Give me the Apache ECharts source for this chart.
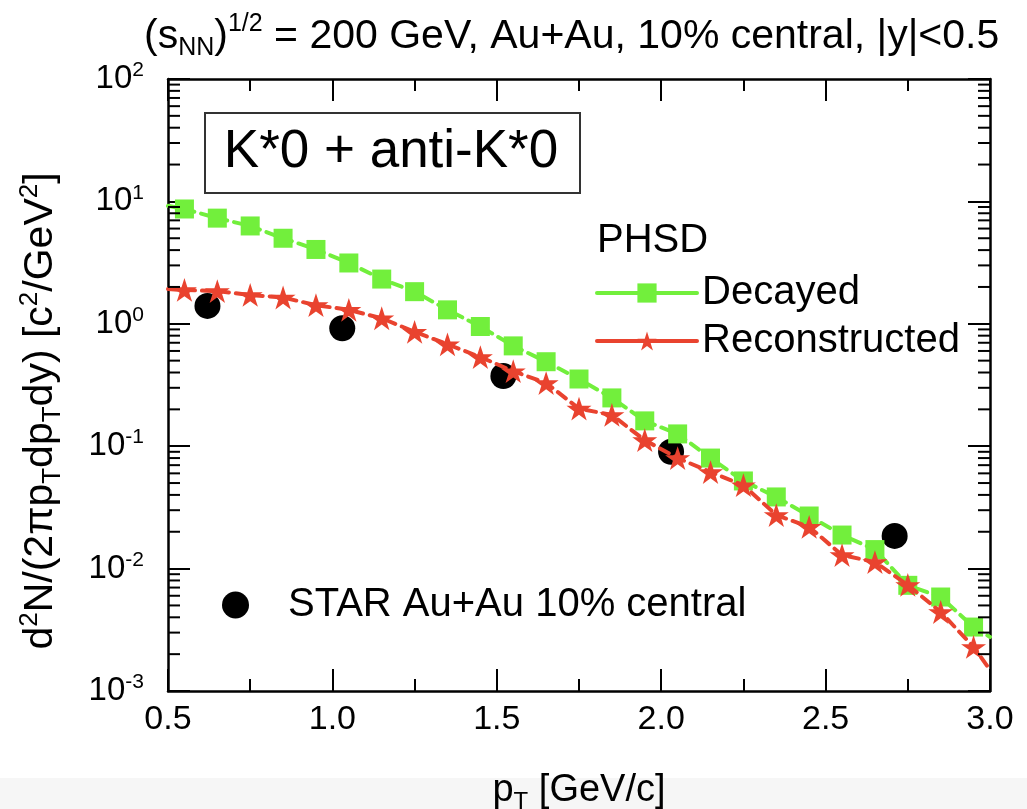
<!DOCTYPE html>
<html>
<head>
<meta charset="utf-8">
<script src="https://cdn.jsdelivr.net/npm/echarts@6/dist/echarts.min.js"></script>
<style>
html,body{margin:0;padding:0;background:#fff;}
#chart{width:1027px;height:809px;}
</style>
</head>
<body>
<div id="chart"></div>
<script>
// ---- data ----
var ptModel = [0.55, 0.65, 0.75, 0.85, 0.95, 1.05, 1.15, 1.25, 1.35, 1.45, 1.55, 1.65, 1.75,
               1.85, 1.95, 2.05, 2.15, 2.25, 2.35, 2.45, 2.55, 2.65, 2.75, 2.85, 2.95];
var decayed = [8.67, 7.3, 6.3, 5.0, 4.05, 3.14, 2.32, 1.83, 1.3, 0.95, 0.66, 0.49, 0.354,
               0.248, 0.161, 0.126, 0.080, 0.052, 0.0385, 0.0269, 0.0188, 0.0143, 0.0073, 0.00586, 0.00333];
var reconstructed = [1.89, 1.85, 1.72, 1.64, 1.42, 1.30, 1.11, 0.86, 0.68, 0.535, 0.41, 0.328, 0.203,
                     0.18, 0.112, 0.080, 0.0615, 0.048, 0.0274, 0.0219, 0.0129, 0.0113, 0.00735, 0.00442, 0.00229];
// curve values at the plot edges (pT = 0.5 and 3.0), drawn without markers
var edgePt = [0.5, 3.0];
var decayedEdge = [9.2, 0.00276];
var reconstructedEdge = [1.92, 0.00149];
var starPt = [0.62, 1.03, 1.52, 2.03, 2.71];
var starVal = [1.40, 0.92, 0.375, 0.090, 0.0185];
var xTicks = [0.5, 1.0, 1.5, 2.0, 2.5, 3.0];
var yMinorTicks = [0.002,0.003,0.004,0.005,0.006,0.007,0.008,0.009,
                   0.02,0.03,0.04,0.05,0.06,0.07,0.08,0.09,
                   0.2,0.3,0.4,0.5,0.6,0.7,0.8,0.9,
                   2,3,4,5,6,7,8,9,
                   20,30,40,50,60,70,80,90];

var FONT = '"Liberation Sans", Arial, Helvetica, sans-serif';
var GREEN = '#72ef3c';
var RED = '#e9432f';
var STARPATH = 'path://M50,0 L61.8,36.3 L100,36.3 L69.1,58.8 L80.9,95.1 L50,72.6 L19.1,95.1 L30.9,58.8 L0,36.3 L38.2,36.3 Z';

function curve(vals, edges) {
  var d = [{value: [edgePt[0], edges[0]], symbol: 'none'}];
  for (var i = 0; i < ptModel.length; i++) d.push([ptModel[i], vals[i]]);
  d.push({value: [edgePt[1], edges[1]], symbol: 'none'});
  return d;
}

function richSet(main, small) {
  return {
    a: {fontSize: main, fontFamily: FONT, fontWeight: 'normal', color: '#000', lineHeight: main + 8, verticalAlign: 'middle'},
    b: {fontSize: small, fontFamily: FONT, fontWeight: 'normal', color: '#000', lineHeight: small, verticalAlign: 'bottom'},
    c: {fontSize: small, fontFamily: FONT, fontWeight: 'normal', color: '#000', lineHeight: small, verticalAlign: 'top'}
  };
}

var chart = echarts.init(document.getElementById('chart'), null, {renderer: 'canvas'});
var axisLineStyle = {color: '#000', width: 2.5};
var option = {
  backgroundColor: '#fff',
  animation: false,
  textStyle: {fontFamily: FONT},
  grid: {left: 168, right: 37, top: 79, bottom: 118, containLabel: false, outerBoundsMode: 'none'},
  title: {
    text: '{a|(s}{b|NN}{a|)}{c|1/2}{a| = 200 GeV, Au+Au, 10% central, |y|<0.5}',
    left: 139, top: 7,
    textStyle: {fontWeight: 'normal', rich: richSet(41, 25)}
  },
  xAxis: [{
    type: 'value', min: 0.5, max: 3.0, interval: 0.5,
    axisLine: {show: true, lineStyle: axisLineStyle},
    axisTick: {show: true, inside: true, length: 22, lineStyle: {color: '#000', width: 2}},
    minorTick: {show: true, splitNumber: 2, length: 12, lineStyle: {color: '#000', width: 2}},
    splitLine: {show: false},
    axisLabel: {fontSize: 34, color: '#000', fontFamily: FONT, margin: 12,
      formatter: function (v) { return v.toFixed(1); }},
    name: '{a|p}{b|T}{a| [GeV/c]}',
    nameLocation: 'middle', nameGap: 77,
    nameTextStyle: {rich: richSet(38, 24)}
  }, {
    type: 'value', min: 0.5, max: 3.0, interval: 0.5, position: 'top',
    axisLine: {show: true, lineStyle: axisLineStyle},
    axisTick: {show: true, inside: true, length: 22, lineStyle: {color: '#000', width: 2}},
    minorTick: {show: true, splitNumber: 2, length: 12, lineStyle: {color: '#000', width: 2}},
    splitLine: {show: false},
    axisLabel: {show: false}
  }],
  yAxis: [{
    type: 'log', logBase: 10, min: 0.001, max: 100,
    axisLine: {show: true, lineStyle: axisLineStyle},
    axisTick: {show: true, inside: true, length: 22, lineStyle: {color: '#000', width: 2}},
    splitLine: {show: false},
    axisLabel: {
      margin: 24, color: '#000',
      formatter: function (v) {
        var e = Math.round(Math.log10(v));
        return '{b|10}{s|' + e + '}';
      },
      rich: {
        b: {fontSize: 33, fontFamily: FONT, color: '#000', lineHeight: 38, verticalAlign: 'middle'},
        s: {fontSize: 21, fontFamily: FONT, color: '#000', lineHeight: 21, verticalAlign: 'top'}
      }
    }
  }, {
    type: 'log', logBase: 10, min: 0.001, max: 100, position: 'right',
    axisLine: {show: true, lineStyle: axisLineStyle},
    axisTick: {show: true, inside: true, length: 22, lineStyle: {color: '#000', width: 2}},
    splitLine: {show: false},
    axisLabel: {show: false}
  }],
  legend: [{
    data: ['Decayed', 'Reconstructed'],
    orient: 'vertical', left: 590, top: 268,
    itemWidth: 100, itemHeight: 24, itemGap: 8,
    textStyle: {fontSize: 40, color: '#000', fontFamily: FONT},
    lineStyle: {type: 'solid', width: 4}
  }, {
    data: ['STAR Au+Au 10% central'],
    left: 217, top: 580,
    itemWidth: 27, itemHeight: 27,
    itemStyle: {opacity: 1},
    textStyle: {fontSize: 40, color: '#000', fontFamily: FONT, padding: [0, 0, 0, 34]}
  }],
  graphic: [
    {type: 'rect', left: 0, top: 778, shape: {width: 1027, height: 31}, style: {fill: '#f6f6f6'}, z: -10, silent: true},
    {type: 'rect', left: 204, top: 112, shape: {width: 375, height: 80}, style: {fill: '#fff', stroke: '#333', lineWidth: 2}, z: 5},
    {type: 'text', x: 391, y: 152, style: {text: 'K*0 + anti-K*0', font: '53px ' + FONT, fill: '#000', textAlign: 'center', textVerticalAlign: 'middle'}, z: 6},
    {type: 'text', x: 597, y: 241, style: {text: 'PHSD', font: '40px ' + FONT, fill: '#000', textAlign: 'left', textVerticalAlign: 'middle'}, z: 6},
    {type: 'text', x: 41, y: 411, rotation: Math.PI / 2, z: 6,
      style: {
        text: '{a|d}{c|2}{a|N/(2πp}{b|T}{a|dp}{b|T}{a|dy) [c}{c|2}{a|/GeV}{c|2}{a|]}',
        rich: richSet(41, 26),
        textAlign: 'center', textVerticalAlign: 'middle'
      }}
  ],
  series: [{
    name: 'STAR Au+Au 10% central',
    type: 'scatter',
    symbol: 'circle', symbolSize: 26,
    itemStyle: {color: '#000', opacity: 1},
    z: 2,
    data: starPt.map(function (x, i) { return [x, starVal[i]]; })
  }, {
    name: 'Decayed',
    type: 'line',
    symbol: 'rect', symbolSize: 19,
    itemStyle: {color: GREEN},
    lineStyle: {color: GREEN, width: 4, type: [10, 7], cap: 'round'},
    z: 3,
    data: curve(decayed, decayedEdge)
  }, {
    name: 'Reconstructed',
    type: 'line',
    symbol: STARPATH, symbolSize: 25, symbolKeepAspect: true,
    itemStyle: {color: RED},
    lineStyle: {color: RED, width: 4, type: [10, 7], cap: 'round'},
    z: 4,
    data: curve(reconstructed, reconstructedEdge)
  }, {
    type: 'custom',
    silent: true,
    z: 10,
    clip: false,
    renderItem: function (params, api) {
      var v = api.value(1);
      var l = api.coord([xTicks[0], v]);
      var r = api.coord([xTicks[xTicks.length - 1], v]);
      return {type: 'group', children: [
        {type: 'line', shape: {x1: l[0], y1: l[1], x2: l[0] + 12, y2: l[1]}, style: {stroke: '#000', lineWidth: 2}},
        {type: 'line', shape: {x1: r[0] - 12, y1: r[1], x2: r[0], y2: r[1]}, style: {stroke: '#000', lineWidth: 2}}
      ]};
    },
    data: yMinorTicks.map(function (v) { return [xTicks[0], v]; })
  }]
};
chart.setOption(option);
</script>
</body>
</html>
